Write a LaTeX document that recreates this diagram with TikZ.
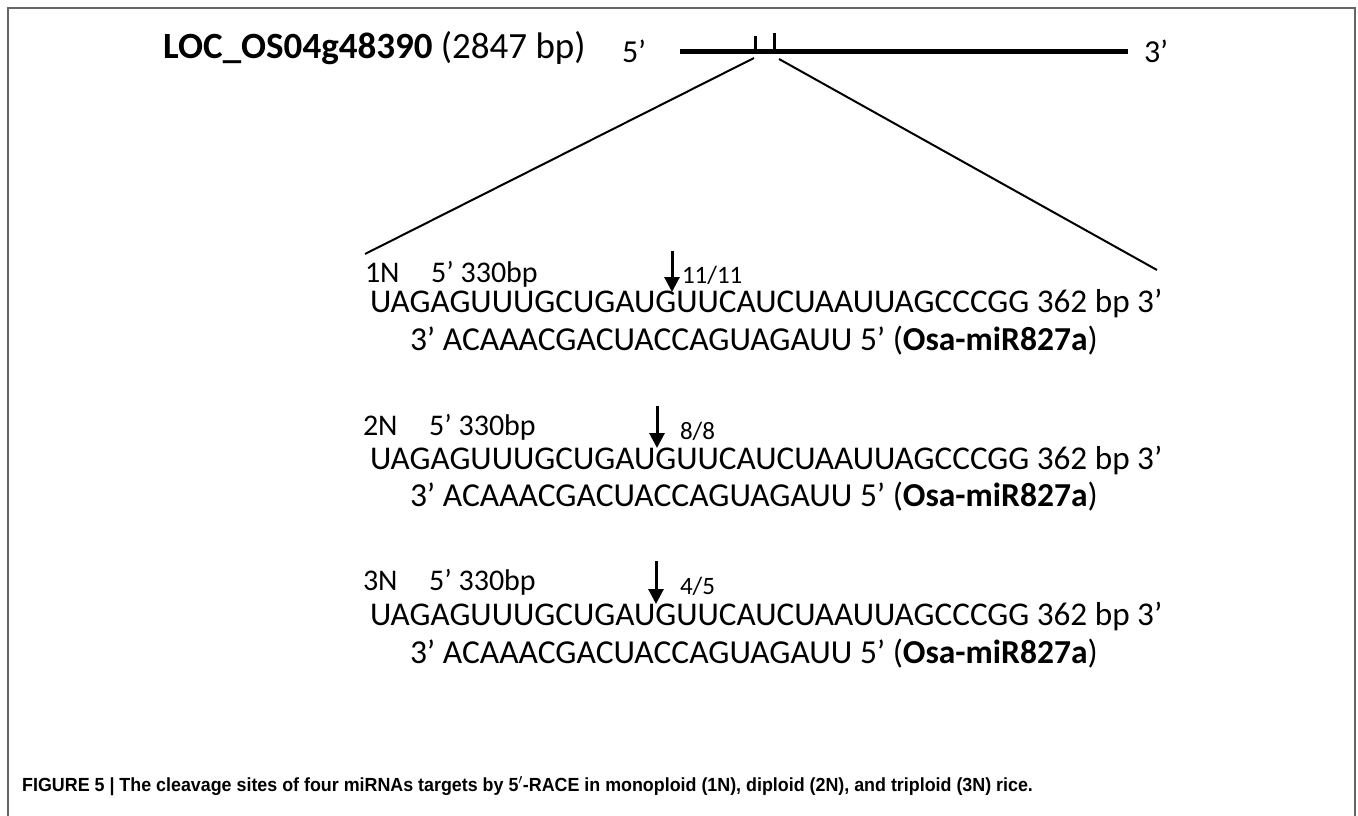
\documentclass[tikz,border=0pt]{standalone}
\usepackage{fontspec}
\setmainfont{Carlito}
\newfontfamily\capfont[FakeStretch=0.94]{Liberation Sans}
\usetikzlibrary{arrows.meta}
\tikzset{
  txt/.style={anchor=base west, inner sep=0pt, outer sep=0pt, font=\fontsize{33.2}{38}\selectfont},
  mir/.style={anchor=base west, inner sep=0pt, outer sep=0pt, font=\fontsize{33.5}{38}\selectfont},
  lbl/.style={anchor=base west, inner sep=0pt, outer sep=0pt, font=\fontsize{30}{34}\selectfont},
  frac/.style={anchor=base west, inner sep=0pt, outer sep=0pt, font=\fontsize{25}{30}\selectfont},
  cut/.style={line width=3pt, -{Triangle[width=15pt,length=15pt]}},
  gene/.style={line width=5pt},
  zoomline/.style={line width=2pt},
  frame/.style={draw=black!60, line width=1.5pt}
}
\begin{document}
\begin{tikzpicture}[x=1pt,y=-1pt]
\useasboundingbox (0,0) rectangle (1358,816);
\fill[white] (0,0) rectangle (1358,816);
\draw[frame] (8,816) -- (8,8) -- (1355,8) -- (1355,816);
% title
\node[anchor=base west, inner sep=0pt, font=\fontsize{37}{42}\selectfont] (title) at (163,59) {\textbf{LOC\_OS04g48390} (2847 bp)};
% gene
\node[txt, font=\fontsize{32}{36}\selectfont] (p5) at (622,63) {5’};
\node[txt, font=\fontsize{32}{36}\selectfont] (p3) at (1144,63) {3’};
\coordinate (gL) at (680,52);
\coordinate (gR) at (1128,52);
\draw[gene] (gL) -- (gR);
\coordinate (t1b) at (755,52); \coordinate (t1t) at (755,36);
\coordinate (t2b) at (774,52); \coordinate (t2t) at (774,33);
\draw[line width=3pt] (t1b) -- (t1t);
\draw[line width=3pt] (t2b) -- (t2t);
\coordinate (zL1) at (754,58); \coordinate (zL2) at (365,254);
\coordinate (zR1) at (779,59); \coordinate (zR2) at (1157,270);
\draw[zoomline] (zL1) -- (zL2);
\draw[zoomline] (zR1) -- (zR2);
% row 1
\node[lbl] (n1) at (365,282) {1N\hspace{1.05em}5’ 330bp};
\coordinate (a1s) at (672,251); \coordinate (a1e) at (672,292);
\draw[cut] (a1s) -- (a1e);
\node[frac] (f1) at (682,283) {11/11};
\node[txt] (s1) at (370,312) {UAGAGUUUGCUGAUGUUCAUCUAAUUAGCCCGG 362 bp 3’};
\node[mir] (m1) at (410,350) {3’ ACAAACGACUACCAGUAGAUU 5’ (\textbf{Osa-miR827a})};
% row 2
\node[lbl] (n2) at (363,435) {2N\hspace{1.05em}5’ 330bp};
\coordinate (a2s) at (657,406); \coordinate (a2e) at (657,448);
\draw[cut] (a2s) -- (a2e);
\node[frac] (f2) at (680,439) {8/8};
\node[txt] (s2) at (370,469) {UAGAGUUUGCUGAUGUUCAUCUAAUUAGCCCGG 362 bp 3’};
\node[mir] (m2) at (410,506) {3’ ACAAACGACUACCAGUAGAUU 5’ (\textbf{Osa-miR827a})};
% row 3
\node[lbl] (n3) at (363,590) {3N\hspace{1.05em}5’ 330bp};
\coordinate (a3s) at (656,561); \coordinate (a3e) at (656,604);
\draw[cut] (a3s) -- (a3e);
\node[frac] (f3) at (680,594) {4/5};
\node[txt] (s3) at (370,625) {UAGAGUUUGCUGAUGUUCAUCUAAUUAGCCCGG 362 bp 3’};
\node[mir] (m3) at (410,663) {3’ ACAAACGACUACCAGUAGAUU 5’ (\textbf{Osa-miR827a})};
% caption
\node[anchor=base west, inner sep=0pt, font=\capfont\bfseries\fontsize{19}{22}\selectfont] (cap) at (22,791) {FIGURE 5 | The cleavage sites of four miRNAs targets by 5$'$-RACE in monoploid (1N), diploid (2N), and triploid (3N) rice.};
\end{tikzpicture}
\end{document}
